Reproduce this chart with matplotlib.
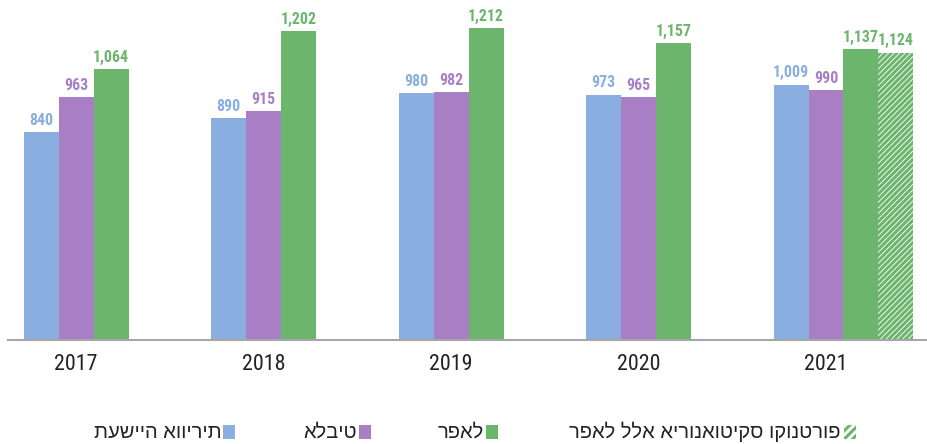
import matplotlib
matplotlib.use("Agg")
import matplotlib.pyplot as plt
from matplotlib.patches import Rectangle
from matplotlib import font_manager
from matplotlib.font_manager import FontProperties
import numpy as np

years = ["2017", "2018", "2019", "2020", "2021"]
iai = [840, 890, 980, 973, 1009]
elbit = [963, 915, 982, 965, 990]
rafael = [1064, 1202, 1212, 1157, 1137]
rafael_excl_year = "2021"
rafael_excl = [1124]

legend_labels = ["תעשייה אווירית", "אלביט", "רפאל", "רפאל ללא אירונאוטיקס וקונטרופ"]

c_blue = "#8aaee0"
c_purple = "#a87fc5"
c_green = "#6bb56c"


def pick_condensed(bold):
    prefs = ['Noto Sans', 'Open Sans', 'Roboto', 'Liberation Sans', 'DejaVu Sans']
    best = None
    for f in font_manager.fontManager.ttflist:
        fn = f.fname.replace('\\', '/').split('/')[-1]
        if not ('Condensed' in fn or 'Narrow' in fn):
            continue
        if 'Semi' in fn or 'Extra' in fn or 'Ultra' in fn or 'Italic' in fn or 'Oblique' in fn:
            continue
        is_bold = 'Bold' in fn
        if is_bold != bold:
            continue
        if not bold and any(k in fn for k in ['Light', 'Thin', 'Medium', 'Black']):
            continue
        rank = len(prefs)
        for i, p in enumerate(prefs):
            if f.name.startswith(p):
                rank = i
                break
        if best is None or rank < best[0]:
            best = (rank, f.fname)
    if best:
        return FontProperties(fname=best[1])
    return FontProperties(family=['Roboto', 'DejaVu Sans'], weight='bold' if bold else 'normal')


val_fp = pick_condensed(True)
year_fp = pick_condensed(False)

plt.rcParams['hatch.linewidth'] = 2.2

W, H = 928, 444
fig = plt.figure(figsize=(W / 100, H / 100), dpi=100)


def fit_size(fp, sample, target_w, max_size, start=12):
    fp = fp.copy()
    fp.set_size(start)
    t = fig.text(0, 0, sample, fontproperties=fp)
    fig.canvas.draw()
    w = t.get_window_extent().width
    t.remove()
    size = min(start * target_w / w, max_size)
    fp.set_size(size)
    return fp


val_fp = fit_size(val_fp, "1,064", 36, 13.5)
year_fp = fit_size(year_fp, "2017", 43, 17)

base_px = 340
ax = fig.add_axes([8 / W, (H - base_px) / H, (W - 8) / W, base_px / H])

x = np.arange(len(years))
bw = 35 / 187.5

series = [(iai, c_blue, -bw), (elbit, c_purple, 0.0), (rafael, c_green, bw)]
for vals, col, off in series:
    bars = ax.bar(x + off, vals, width=bw, color=col, linewidth=0)
    for b, v in zip(bars, vals):
        ax.annotate(f"{v:,}", (b.get_x() + b.get_width() / 2, v), xytext=(0, 3),
                    textcoords='offset points', ha='center', va='bottom', color=col,
                    fontproperties=val_fp)

xi = years.index(rafael_excl_year)
hb = ax.bar([xi + 2 * bw], rafael_excl, width=bw, facecolor='white', edgecolor=c_green,
            hatch='//////', linewidth=0)
for b, v in zip(hb, rafael_excl):
    ax.annotate(f"{v:,}", (b.get_x() + b.get_width() / 2, v), xytext=(0, 3),
                textcoords='offset points', ha='center', va='bottom', color=c_green,
                fontproperties=val_fp)

slope = 0.2786
zero_px = 365.7
ax.set_ylim((zero_px - base_px) / slope, zero_px / slope)
ax.set_xlim((8 - 76) / 187.5, (W - 76) / 187.5)

for s in ['top', 'right', 'left']:
    ax.spines[s].set_visible(False)
ax.spines['bottom'].set_color('#a6a6a6')
ax.spines['bottom'].set_linewidth(1.5)
ax.set_yticks([])
ax.set_xticks(x)
ax.set_xticklabels(years, fontproperties=year_fp, color='#222222')
ax.tick_params(axis='x', length=0, pad=10)

# legend (manual, right-to-left)
leg_y = 432
patches = [(229, c_blue, None), (365, c_purple, None), (492, c_green, None), (850, c_green, 'hatch')]
text_right = [222, 357, 484, 841]
for (px, col, kind), tr, lab in zip(patches, text_right, legend_labels):
    if kind is None:
        r = Rectangle(((px - 6) / W, (H - leg_y - 7) / H), 12 / W, 14 / H, transform=fig.transFigure,
                      facecolor=col, linewidth=0)
    else:
        r = Rectangle(((px - 6) / W, (H - leg_y - 7) / H), 12 / W, 14 / H, transform=fig.transFigure,
                      facecolor='white', edgecolor=col, hatch='////', linewidth=0)
    fig.patches.append(r)
    fig.text(tr / W, (H - leg_y) / H, lab, ha='right', va='center', fontsize=14.5,
             family=['Liberation Sans', 'DejaVu Sans'], color='#222222')

fig.savefig("out.png", dpi=100)
